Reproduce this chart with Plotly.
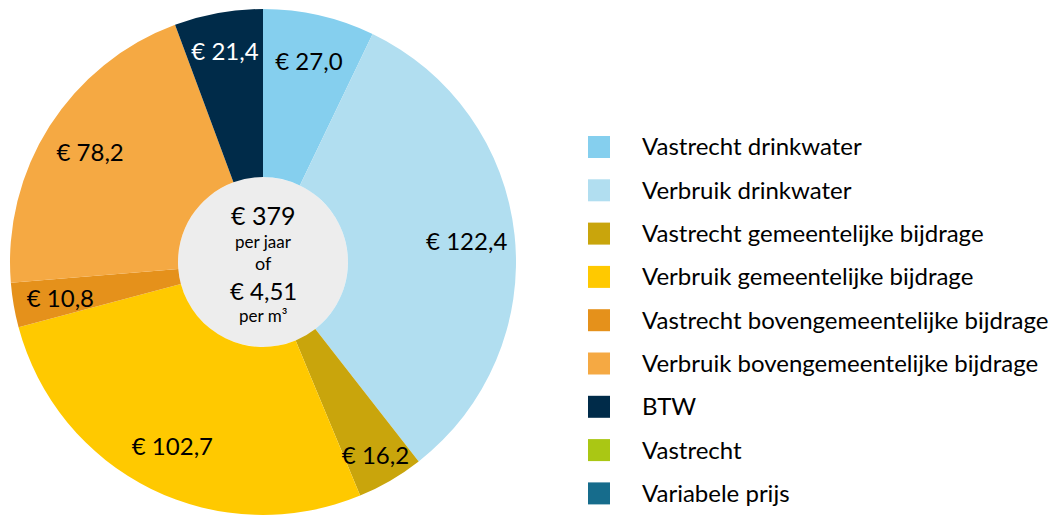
import plotly.graph_objects as go

labels = ["Vastrecht drinkwater", "Verbruik drinkwater", "Vastrecht gemeentelijke bijdrage",
          "Verbruik gemeentelijke bijdrage", "Vastrecht bovengemeentelijke bijdrage",
          "Verbruik bovengemeentelijke bijdrage", "BTW", "Vastrecht", "Variabele prijs"]
values = [27.0, 122.4, 16.2, 102.7, 10.8, 78.2, 21.4, 0, 0]
colors = ["#85CFEE", "#B1DEF0", "#C9A50C", "#FFC900", "#E5911B", "#F5A943", "#002B49", "#AAC714", "#166C8C"]
text_colors = ["#000000", "#000000", "#000000", "#000000", "#000000", "#000000", "#FFFFFF", "#000000", "#000000"]
center_lines = ["€ 379", "per jaar", "of", "€ 4,51", "per m³"]

FONT = "Lato"
W, H = 1052, 516
cx, cy, R = 263, 262, 253
hole_r = 85


def px(sx):
    return sx / W


def py(sy):
    return (H - sy) / H


def dom(r):
    return dict(x=[px(cx - r), px(cx + r)], y=[py(cy + r), py(cy - r)])


# visual pie
fig = go.Figure(go.Pie(
    labels=labels, values=values, sort=False, direction="clockwise", rotation=0,
    marker=dict(colors=colors, line=dict(width=0)),
    hole=hole_r / R, textinfo="none",
    showlegend=False, hoverinfo="label+value", domain=dom(R),
))

# label layers (same values, transparent slices) that place the value labels
narrow = [v > 0 and v / sum(values) < 0.035 for v in values]
for r_lab, pick in ((R, lambda i: not narrow[i]), (224, lambda i: narrow[i])):
    fig.add_trace(go.Pie(
        labels=labels, values=values, sort=False, direction="clockwise", rotation=0,
        marker=dict(colors=["rgba(0,0,0,0)"] * len(values), line=dict(width=0)),
        hole=0.62,
        texttemplate=["€ %{value:.1f}" if (v > 0 and pick(i)) else "" for i, v in enumerate(values)],
        textposition="inside", insidetextorientation="horizontal",
        insidetextfont=dict(color=text_colors, size=24, family=FONT),
        showlegend=False, hoverinfo="skip", domain=dom(r_lab),
    ))

shapes = [dict(type="circle", xref="paper", yref="paper", layer="below",
               x0=px(cx - hole_r), x1=px(cx + hole_r),
               y0=py(cy + hole_r), y1=py(cy - hole_r),
               fillcolor="#EDEDED", line=dict(width=0))]
annotations = []

# center text
sizes = [25, 17, 18, 24, 17]
ys = [215, 241, 263, 290, 315]
for t, s, yy in zip(center_lines, sizes, ys):
    annotations.append(dict(text=t, x=px(cx), y=py(yy), xref="paper", yref="paper",
                            showarrow=False, xanchor="center", yanchor="middle",
                            font=dict(size=s, family=FONT, color="#000000")))

# legend
y0, dy = 146, 43.3
for i, (lab, col) in enumerate(zip(labels, colors)):
    yc = y0 + i * dy
    shapes.append(dict(type="rect", xref="paper", yref="paper",
                       x0=px(588), x1=px(610), y0=py(yc + 12), y1=py(yc - 10),
                       fillcolor=col, line=dict(width=0)))
    annotations.append(dict(text=lab, x=px(640), y=py(yc), xref="paper", yref="paper",
                            showarrow=False, xanchor="left", yanchor="middle",
                            font=dict(size=24, family=FONT, color="#000000")))

fig.update_layout(width=W, height=H, margin=dict(l=0, r=0, t=0, b=0),
                  paper_bgcolor="white", plot_bgcolor="white",
                  separators=",.", shapes=shapes, annotations=annotations,
                  uniformtext=dict(minsize=24, mode="show"))
fig.write_html("out.html", config={"displayModeBar": False},
               post_script="document.body.style.margin='0';document.body.style.overflow='hidden';")
